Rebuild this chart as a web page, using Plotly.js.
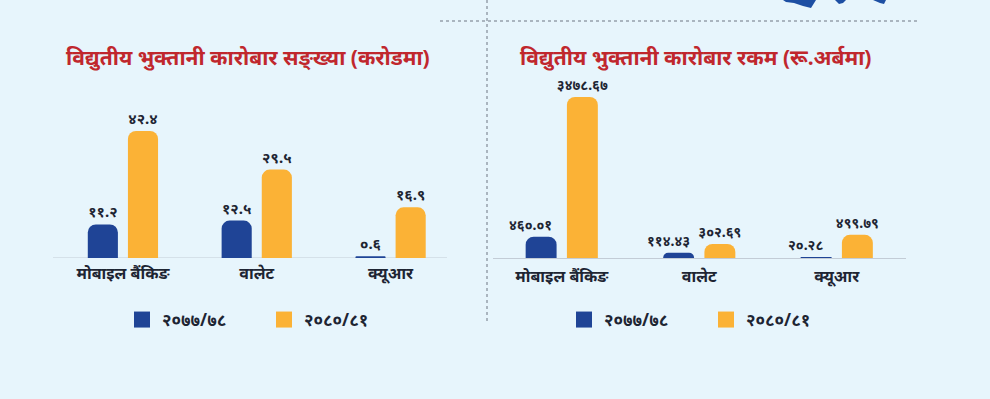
<!DOCTYPE html>
<html><head><meta charset="utf-8">
<script src="https://cdn.plot.ly/plotly-3.0.1.min.js"></script>
<style>html,body{margin:0;padding:0;background:#e7f5fc;} #chart{width:990px;height:399px;}</style>
</head><body><div id="chart"></div>
<script>
// ---- data ----
const categories = ['मोबाइल बैंकिङ', 'वालेट', 'क्यूआर'];
const seriesNames = ['२०७७/७८', '२०८०/८१'];
const countPrev = [11.2, 12.5, 0.6];
const countCurr = [42.4, 29.5, 16.9];
const amountPrev = [460.01, 114.43, 20.28];
const amountCurr = [3478.67, 302.69, 499.79];
const titleCount = 'विद्युतीय भुक्तानी कारोबार सङ्ख्या (करोडमा)';
const titleAmount = 'विद्युतीय भुक्तानी कारोबार रकम (रू.अर्बमा)';

const devaDigits = '०१२३४५६७८९';
function toDeva(v) { return String(v).replace(/[0-9]/g, d => devaDigits[+d]); }

const W = 990, H = 399;
const px = v => v / W, py = v => 1 - v / H;
const FONT = 'Noto Sans, sans-serif';
const BLUE = '#1f4496', ORANGE = '#fbb236', TXT = '#1e2533';

function bars(y, color, xa, ya, size, withText) {
  const t = {
    type: 'bar', x: categories, y: y, xaxis: xa, yaxis: ya,
    marker: { color: color, cornerradius: 8 },
    showlegend: false, hoverinfo: 'skip'
  };
  if (withText) Object.assign(t, {
    text: y.map(toDeva), textposition: 'outside', cliponaxis: false, constraintext: 'none',
    textfont: { family: FONT, size: size, color: TXT, weight: 'bold' }
  });
  return t;
}
function legendItem(name, color, xa, ya, lg) {
  return {
    type: 'scatter', mode: 'markers', x: [null], y: [null], xaxis: xa, yaxis: ya,
    name: name, legend: lg, showlegend: true,
    marker: { symbol: 'square', size: 16, color: color }
  };
}

const data = [
  bars(countPrev, BLUE, 'x', 'y', 15, true),
  bars(countCurr, ORANGE, 'x', 'y', 15, true),
  bars(amountPrev, BLUE, 'x2', 'y2', 14, false),
  bars(amountCurr, ORANGE, 'x2', 'y2', 14, true),
  legendItem(seriesNames[0], BLUE, 'x', 'y', 'legend'),
  legendItem(seriesNames[1], ORANGE, 'x', 'y', 'legend'),
  legendItem(seriesNames[0], BLUE, 'x2', 'y2', 'legend2'),
  legendItem(seriesNames[1], ORANGE, 'x2', 'y2', 'legend2')
];

// value labels of the 2077/78 amount bars, placed left-shifted as in the original
const amountPrevLabels = categories.map((c, i) => ({
  xref: 'x2', yref: 'y2', x: c, y: amountPrev[i], text: toDeva(amountPrev[i]),
  xanchor: 'center', yanchor: 'bottom', xshift: -31, yshift: 1, showarrow: false,
  font: { family: FONT, size: 14, color: TXT, weight: 'bold' }
}));

const axisX = (d) => ({
  domain: d, showgrid: false, zeroline: false, ticks: '', fixedrange: true, ticklabelstandoff: 4,
  tickfont: { family: FONT, size: 16, color: TXT, weight: 'bold' }
});
const legendBase = (x) => ({
  orientation: 'h', x: x, y: py(320), xanchor: 'left', yanchor: 'middle',
  font: { family: FONT, size: 17, color: TXT, weight: 'bold' },
  bgcolor: 'rgba(0,0,0,0)', itemclick: false, itemdoubleclick: false,
  entrywidth: 97, tracegroupgap: 0
});

function pathPx(pts) {
  return 'M' + pts.map(p => px(p[0]) + ',' + py(p[1])).join('L') + 'Z';
}

const layout = {
  width: W, height: H, margin: { l: 0, r: 0, t: 0, b: 0 },
  paper_bgcolor: '#e7f5fc', plot_bgcolor: 'rgba(0,0,0,0)',
  font: { family: FONT },
  barmode: 'group', bargap: 0.4, bargroupgap: 0.25,
  xaxis: Object.assign(axisX([px(56), px(457.5)]), { anchor: 'y', showline: false }),
  yaxis: { domain: [py(258), py(80)], range: [0, 59.4], visible: false, fixedrange: true },
  xaxis2: Object.assign(axisX([px(493), px(905.5)]), { anchor: 'y2', showline: true, linecolor: '#c3ccd6', linewidth: 1 }),
  yaxis2: { domain: [py(258), py(80)], range: [0, 3846], visible: false, fixedrange: true, anchor: 'x2' },
  legend: legendBase(px(122)),
  legend2: legendBase(px(564)),
  shapes: [
    { type: 'line', xref: 'paper', yref: 'y', x0: px(53), x1: px(447), y0: 0, y1: 0, line: { color: '#c3ccd6', width: 1 }, layer: 'below' },
    { type: 'line', xref: 'paper', yref: 'paper', x0: px(487), x1: px(487), y0: 1, y1: py(323), line: { color: '#aab5bf', width: 2, dash: 'dot' } },
    { type: 'line', xref: 'paper', yref: 'paper', x0: px(440), x1: px(918), y0: py(21), y1: py(21), line: { color: '#aab5bf', width: 2, dash: 'dot' } },
    { type: 'path', xref: 'paper', yref: 'paper', fillcolor: '#1d4fa3', line: { width: 0 },
      path: pathPx([[783, 0], [816, 0], [811, 8], [803, 6], [794, 3], [786, 2]]) },
    { type: 'path', xref: 'paper', yref: 'paper', fillcolor: '#1d4fa3', line: { width: 0 },
      path: pathPx([[835, 0], [846, 0], [843, 3], [839, 4]]) },
    { type: 'path', xref: 'paper', yref: 'paper', fillcolor: '#1d4fa3', line: { width: 0 },
      path: pathPx([[873, 0], [886, 0], [884, 4], [880, 3]]) }
  ],
  annotations: [
    { text: titleCount, xref: 'paper', yref: 'paper', x: px(248), y: py(57), xanchor: 'center', yanchor: 'middle', showarrow: false,
      font: { family: FONT, size: 21, color: '#c0272d', weight: 'bold' } },
    { text: titleAmount, xref: 'paper', yref: 'paper', x: px(695), y: py(57), xanchor: 'center', yanchor: 'middle', showarrow: false,
      font: { family: FONT, size: 21, color: '#c0272d', weight: 'bold' } }
  ].concat(amountPrevLabels)
};

Plotly.newPlot('chart', data, layout, { displayModeBar: false, staticPlot: true });
</script>
</body></html>
